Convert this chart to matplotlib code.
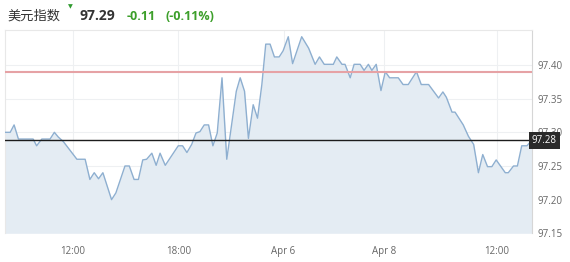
import math
import matplotlib
matplotlib.use("Agg")
import matplotlib.pyplot as plt
from matplotlib.transforms import blended_transform_factory

plt.rcParams['font.family'] = ['Open Sans', 'Noto Sans CJK SC', 'DejaVu Sans']

# Session position (sample units) and index level
t = [0, 1.2, 2.1, 3.1, 6.5, 7.3, 8.5, 10.4, 11.4, 12.3, 13.5, 16.6, 18.5, 19.6,
     20.6, 21.6, 22.6, 24.6, 25.6, 27.7, 28.7, 29.8, 30.8, 31.8, 32.7, 33.9,
     34.9, 35.8, 37.0, 40.0, 41.0, 42.0, 43.1, 44.1, 45.0, 46.0, 47.0, 48.0,
     49.0, 50.1, 51.2, 53.4, 54.3, 55.3, 56.2, 57.3, 58.3, 59.3, 60.2, 61.2,
     62.2, 63.3, 64.2, 65.4, 66.4, 68.5, 70.1, 71.6, 72.6, 73.7, 75.8, 76.6,
     77.8, 78.5, 79.7, 80.6, 82.0, 82.9, 83.9, 84.7, 85.7, 86.8, 87.8, 88.8,
     90.8, 91.9, 93.1, 95.0, 96.1, 97.8, 100.1, 101.1, 101.9, 103.2, 103.9,
     105.8, 107.0, 108.2, 109.3, 110.3, 111.4, 112.4, 113.4, 115.5, 116.2,
     117.4, 118.3, 119.3, 120.5, 121.6]
price = [97.300, 97.300, 97.311, 97.290, 97.290, 97.280, 97.290, 97.290,
         97.300, 97.293, 97.286, 97.260, 97.260, 97.230, 97.240, 97.231,
         97.240, 97.200, 97.210, 97.250, 97.250, 97.230, 97.230, 97.259,
         97.260, 97.269, 97.251, 97.269, 97.251, 97.280, 97.280, 97.270,
         97.282, 97.299, 97.301, 97.311, 97.311, 97.280, 97.299, 97.381,
         97.260, 97.361, 97.381, 97.361, 97.291, 97.341, 97.321, 97.371,
         97.431, 97.431, 97.412, 97.412, 97.421, 97.442, 97.402, 97.442,
         97.425, 97.401, 97.412, 97.401, 97.401, 97.412, 97.401, 97.401,
         97.381, 97.401, 97.401, 97.392, 97.401, 97.392, 97.401, 97.362,
         97.390, 97.381, 97.381, 97.371, 97.371, 97.390, 97.371, 97.371,
         97.351, 97.360, 97.352, 97.330, 97.330, 97.311, 97.294, 97.282,
         97.240, 97.267, 97.249, 97.249, 97.259, 97.240, 97.240, 97.250,
         97.250, 97.280, 97.280, 97.288]

prev_close = 97.39
last_price = price[-1]

ytick_vals = [97.15, 97.20, 97.25, 97.30, 97.35, 97.40]
xtick_pos = [15.7, 40.0, 64.3, 87.5, 113.6]
xtick_labels = ["12:00", "18:00", "Apr 6", "Apr 8", "12:00"]

title = "美元指数"
quote = "97.29"
change = "-0.11"
change_pct = "(-0.11%)"

W, H = 570, 262
fig = plt.figure(figsize=(W / 100, H / 100), dpi=100)
fig.patch.set_facecolor("white")

ax = fig.add_axes([5 / W, 1 - 233.3 / H, 526.7 / W, 203.3 / H])
ax.set_facecolor("white")
ax.set_xlim(t[0], t[-1])
ax.set_ylim(97.15, 97.452)

ax.fill_between(t, price, 97.15, color="#e4ecf3", lw=0, zorder=1)
ax.plot(t, price, color="#8eafd0", lw=1.0, zorder=3)
ax.axhline(prev_close, color="#e6a2a5", lw=1.5, zorder=4)
ax.axhline(last_price, color="#1c1c1c", lw=1.0, zorder=4)

ax.yaxis.tick_right()
ax.set_yticks(ytick_vals)
ax.set_yticklabels([f"{v:.2f}" for v in ytick_vals])
ax.set_xticks(xtick_pos)
ax.set_xticklabels(xtick_labels)
ax.tick_params(axis="both", length=0, labelsize=7, colors="#666666")
ax.tick_params(axis="y", pad=4)
ax.tick_params(axis="x", pad=9)
ax.grid(True, color="#eef0f2", lw=0.8, zorder=0)
ax.set_axisbelow(True)

for side in ("left", "top"):
    ax.spines[side].set_color("#e8e8e8")
    ax.spines[side].set_linewidth(0.8)
ax.spines["right"].set_color("#d6d6d6")
ax.spines["right"].set_linewidth(0.8)
ax.spines["bottom"].set_visible(False)

# last-price tag on the right axis
tag = f"{math.floor(last_price * 100) / 100:.2f}"
trans = blended_transform_factory(ax.transAxes, ax.transData)
ax.text(1.0, last_price, tag, transform=trans, ha="left", va="center",
        fontsize=7, color="white", zorder=10, clip_on=False,
        bbox=dict(boxstyle="square,pad=0.3", fc="#2a2a2a", ec="none"))

# header
fig.text(7 / W, 1 - 16 / H, title, fontsize=9.5, color="#333333",
         va="center", ha="left", family=["Noto Sans CJK SC", "DejaVu Sans"])
fig.text(68 / W, 1 - 6.5 / H, "▼", fontsize=4.5, color="#2f9a2f",
         va="center", ha="left", family=["DejaVu Sans"])
fig.text(80 / W, 1 - 16 / H, quote, fontsize=10, fontweight="bold",
         color="#333333", va="center", ha="left")
fig.text(127 / W, 1 - 16 / H, change, fontsize=9, fontweight="bold",
         color="#3d9f2b", va="center", ha="left")
fig.text(166 / W, 1 - 16 / H, change_pct, fontsize=9, fontweight="bold",
         color="#3d9f2b", va="center", ha="left")

fig.savefig("out.png", dpi=100, facecolor="white")
